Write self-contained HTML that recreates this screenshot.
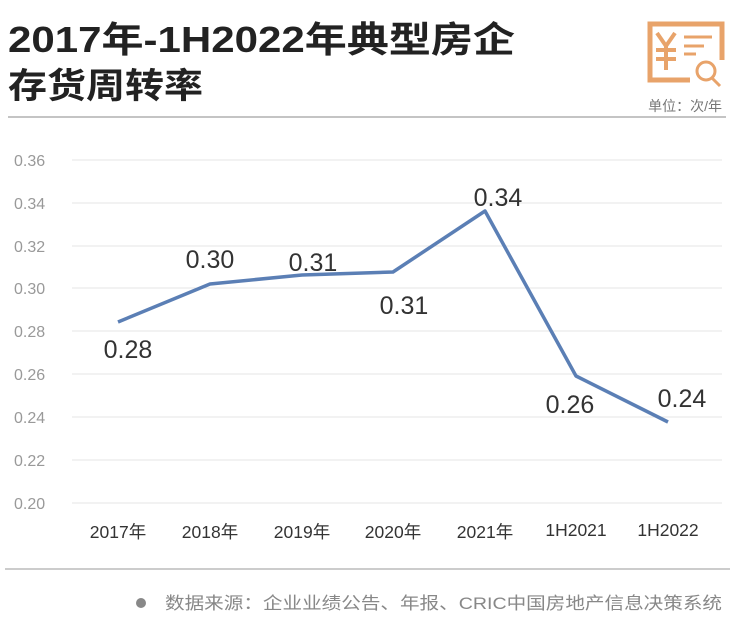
<!DOCTYPE html>
<html><head><meta charset="utf-8"><style>
body{margin:0;background:#fff;width:740px;height:634px;overflow:hidden;font-family:"Liberation Sans","Noto Sans CJK SC",sans-serif;}
</style></head><body>
<svg width="740" height="634" xmlns="http://www.w3.org/2000/svg" font-family="Liberation Sans, Noto Sans CJK SC, sans-serif">
<text x="8" y="52" font-size="36" font-weight="bold" fill="#222" textLength="507" lengthAdjust="spacingAndGlyphs">2017年-1H2022年典型房企</text>
<text x="8" y="98" font-size="35" font-weight="bold" fill="#222" textLength="195" lengthAdjust="spacingAndGlyphs">存货周转率</text>
<g stroke="#e8a36a" stroke-width="5" fill="none">
<path d="M690 80 H650 V24 H722 V60"/>
<path d="M657 33 L666 46 L675 33 M666 46 V70 M656 50 H676 M656 59 H676" stroke-width="4"/>
<path d="M684 37 H712 M684 46 H704 M684 54 H696" stroke-width="3"/>
<circle cx="706" cy="71" r="9" stroke-width="3"/>
<path d="M712 78 L720 86" stroke-width="3"/>
</g>
<text x="722" y="111" font-size="14" fill="#777" text-anchor="end">单位：次/年</text>
<line x1="8" y1="117" x2="726" y2="117" stroke="#888" stroke-width="1"/>
<g stroke="#e6e6e6" stroke-width="1">
<line x1="72" y1="160" x2="722" y2="160"/><line x1="72" y1="203" x2="722" y2="203"/>
<line x1="72" y1="246" x2="722" y2="246"/><line x1="72" y1="288" x2="722" y2="288"/>
<line x1="72" y1="331" x2="722" y2="331"/><line x1="72" y1="374" x2="722" y2="374"/>
<line x1="72" y1="417" x2="722" y2="417"/><line x1="72" y1="460" x2="722" y2="460"/>
<line x1="72" y1="503" x2="722" y2="503"/>
</g>
<g font-size="16" fill="#999">
<text x="14" y="166">0.36</text><text x="14" y="209">0.34</text><text x="14" y="252">0.32</text>
<text x="14" y="294">0.30</text><text x="14" y="337">0.28</text><text x="14" y="380">0.26</text>
<text x="14" y="423">0.24</text><text x="14" y="466">0.22</text><text x="14" y="509">0.20</text>
</g>
<polyline points="118,322 210,284 302,275 393,272 485,211 576,376 668,422" fill="none" stroke="#5b7fb5" stroke-width="3.5" stroke-linejoin="round"/>
<g font-size="25" fill="#333" text-anchor="middle">
<text x="128" y="358">0.28</text><text x="210" y="268">0.30</text><text x="313" y="271">0.31</text>
<text x="404" y="314">0.31</text><text x="498" y="206">0.34</text><text x="570" y="413">0.26</text>
<text x="682" y="407">0.24</text>
</g>
<g font-size="17.5" fill="#333" text-anchor="middle">
<text x="118" y="538">2017年</text><text x="210" y="538">2018年</text><text x="302" y="538">2019年</text>
<text x="393" y="538">2020年</text><text x="485" y="538">2021年</text><text x="576" y="536">1H2021</text>
<text x="668" y="536">1H2022</text>
</g>
<line x1="5" y1="569" x2="730" y2="569" stroke="#bbb" stroke-width="1.5"/>
<circle cx="141" cy="603" r="5" fill="#888"/>
<text x="165" y="609" font-size="17" fill="#888" textLength="557" lengthAdjust="spacingAndGlyphs">数据来源：企业业绩公告、年报、CRIC中国房地产信息决策系统</text>
</svg>
</body></html>
